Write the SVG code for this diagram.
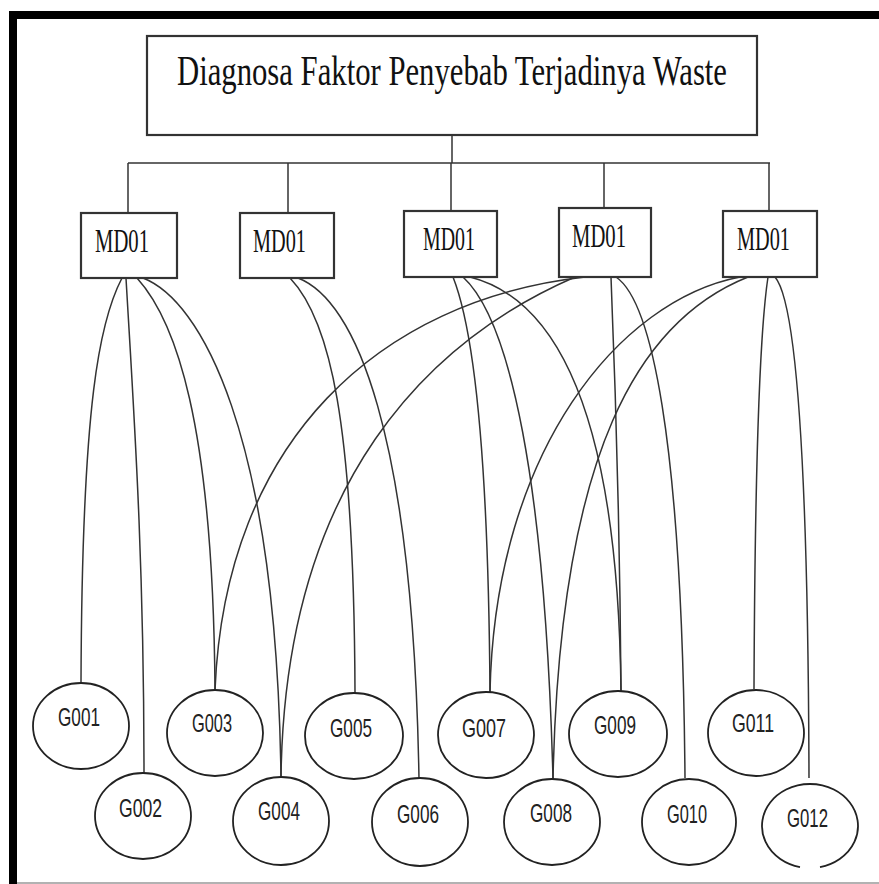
<svg xmlns="http://www.w3.org/2000/svg" width="879" height="884" viewBox="0 0 879 884">
<style>
.box{fill:#fff;stroke:#333;stroke-width:2.2}
.ell{fill:#fff;stroke:#222;stroke-width:1.8}
.mt{font-family:"Liberation Serif",serif;font-size:34px;fill:#111}
.gt{font-family:"Liberation Sans",sans-serif;font-size:25px;fill:#222}
.tt{font-family:"Liberation Serif",serif;font-size:30px;fill:#111}
#connectors path,#connectors line{fill:none;stroke:#333;stroke-width:1.5}
</style>
<rect x="0" y="0" width="879" height="884" fill="#fff"/>
<rect x="9" y="11" width="870" height="8" fill="#000"/>
<rect x="9" y="11" width="8" height="873" fill="#000"/>
<line x1="17" y1="883" x2="879" y2="883" stroke="#999" stroke-width="1.5"/>

<g id="connectors">
<line x1="452" y1="135" x2="452" y2="163"/>
<line x1="128" y1="163" x2="770" y2="163"/>
<line x1="128" y1="163" x2="128" y2="213"/>
<line x1="288" y1="163" x2="288" y2="213"/>
<line x1="451" y1="163" x2="451" y2="211"/>
<line x1="604" y1="163" x2="604" y2="208"/>
<line x1="769" y1="163" x2="769" y2="211"/>
<path d="M122,278 C100,320 82,400 81,683"/>
<path d="M126,278 C133,400 144,550 144,773"/>
<path d="M137,278 C175,320 213,420 215,690"/>
<path d="M143,278 C200,300 276,430 281,777"/>
<path d="M290,278 C330,320 354,420 355,693"/>
<path d="M298,278 C355,300 413,430 419,779"/>
<path d="M453,277 C470,320 488,420 490,692"/>
<path d="M463,277 C510,320 545,480 553,779"/>
<path d="M470,277 C560,300 618,420 621,691"/>
<path d="M585,277 C380,300 225,440 215,690"/>
<path d="M575,277 C430,340 285,480 281,777"/>
<path d="M611,277 C616,400 620,550 621,691"/>
<path d="M616,277 C650,300 682,430 685,778"/>
<path d="M740,277 C620,300 495,450 490,692"/>
<path d="M748,277 C640,320 560,450 553,779"/>
<path d="M768,277 C760,330 755,450 754,689"/>
<path d="M775,277 C795,300 808,450 809,778"/>
</g>

<g id="root">
<rect class="box" x="147" y="36" width="610" height="99"/>
<text class="tt" transform="translate(177,85) scale(1,1.38)" x="0" y="0" textLength="550" lengthAdjust="spacingAndGlyphs">Diagnosa Faktor Penyebab Terjadinya Waste</text>
</g>

<g id="m1"><rect class="box" x="81" y="213" width="96" height="65"/><text class="mt" x="95" y="252" textLength="54" lengthAdjust="spacingAndGlyphs">MD01</text></g>
<g id="m2"><rect class="box" x="240" y="213" width="94" height="65"/><text class="mt" x="253" y="252" textLength="53" lengthAdjust="spacingAndGlyphs">MD01</text></g>
<g id="m3"><rect class="box" x="404" y="211" width="93" height="66"/><text class="mt" x="423" y="250" textLength="52" lengthAdjust="spacingAndGlyphs">MD01</text></g>
<g id="m4"><rect class="box" x="559" y="208" width="92" height="69"/><text class="mt" x="572" y="247" textLength="54" lengthAdjust="spacingAndGlyphs">MD01</text></g>
<g id="m5"><rect class="box" x="723" y="211" width="94" height="66"/><text class="mt" x="737" y="250" textLength="53" lengthAdjust="spacingAndGlyphs">MD01</text></g>

<g id="g001"><ellipse class="ell" cx="81" cy="726" rx="48" ry="43"/><text class="gt" x="58" y="726" textLength="42" lengthAdjust="spacingAndGlyphs">G001</text></g>
<g id="g002"><ellipse class="ell" cx="143" cy="816" rx="48" ry="43"/><text class="gt" x="119" y="817" textLength="43" lengthAdjust="spacingAndGlyphs">G002</text></g>
<g id="g003"><ellipse class="ell" cx="215" cy="733" rx="48" ry="43"/><text class="gt" x="192" y="732" textLength="40" lengthAdjust="spacingAndGlyphs">G003</text></g>
<g id="g004"><ellipse class="ell" cx="281" cy="821" rx="48" ry="44"/><text class="gt" x="258" y="820" textLength="42" lengthAdjust="spacingAndGlyphs">G004</text></g>
<g id="g005"><ellipse class="ell" cx="354" cy="736" rx="49" ry="43"/><text class="gt" x="330" y="737" textLength="42" lengthAdjust="spacingAndGlyphs">G005</text></g>
<g id="g006"><ellipse class="ell" cx="420" cy="822" rx="48" ry="44"/><text class="gt" x="397" y="823" textLength="42" lengthAdjust="spacingAndGlyphs">G006</text></g>
<g id="g007"><ellipse class="ell" cx="486" cy="735" rx="48" ry="43"/><text class="gt" x="462" y="737" textLength="44" lengthAdjust="spacingAndGlyphs">G007</text></g>
<g id="g008"><ellipse class="ell" cx="552" cy="822" rx="48" ry="43"/><text class="gt" x="530" y="822" textLength="42" lengthAdjust="spacingAndGlyphs">G008</text></g>
<g id="g009"><ellipse class="ell" cx="618" cy="734" rx="49" ry="43"/><text class="gt" x="594" y="734" textLength="42" lengthAdjust="spacingAndGlyphs">G009</text></g>
<g id="g010"><ellipse class="ell" cx="689" cy="822" rx="47" ry="43"/><text class="gt" x="667" y="823" textLength="40" lengthAdjust="spacingAndGlyphs">G010</text></g>
<g id="g011"><ellipse class="ell" cx="756" cy="733" rx="48" ry="43"/><text class="gt" x="732" y="732" textLength="42" lengthAdjust="spacingAndGlyphs">G011</text></g>
<g id="g012"><path class="ell" d="M820,867.1 A48,42 0 1 0 800,867.1"/><text class="gt" x="787" y="827" textLength="41" lengthAdjust="spacingAndGlyphs">G012</text></g>
</svg>
